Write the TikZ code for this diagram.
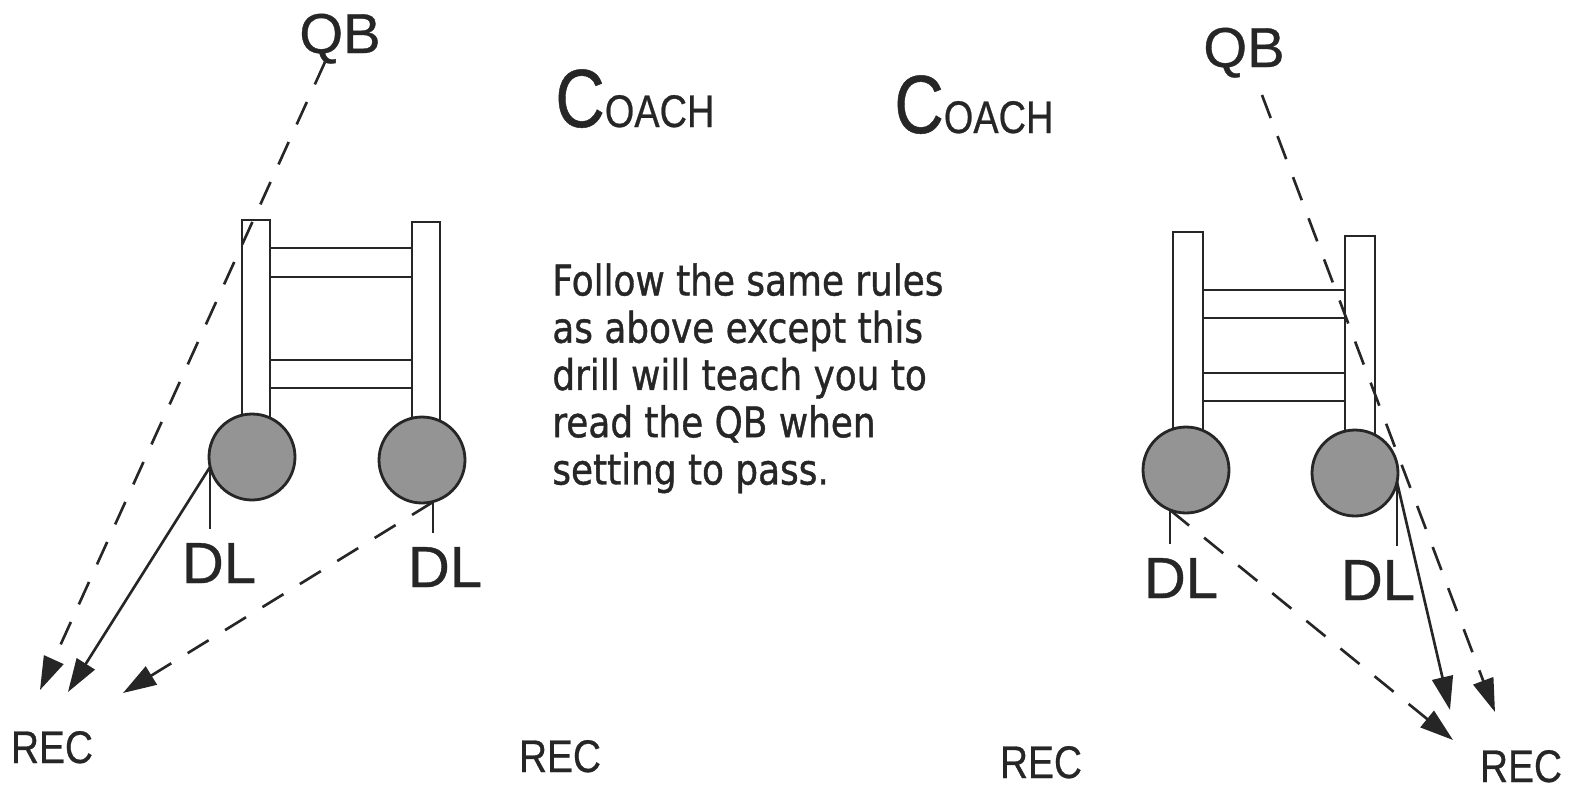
\documentclass[tikz,border=0pt]{standalone}
\usepackage{fontspec}
\usepackage{graphicx}
\setmainfont{Liberation Sans}[FakeBold=0.6]
\newfontfamily\genfont{DejaVu Sans}[FakeBold=1.0]
\usetikzlibrary{arrows.meta,calc}
\begin{document}
\begin{tikzpicture}[x=0.02cm,y=-0.02cm,
  ink/.style={draw=black!85,line width=1.6pt},
  railbox/.style={ink,fill=white},
  player/.style={circle,ink,fill=black!42,minimum size=1.72cm,inner sep=0pt},
  lbl/.style={inner sep=0pt,text=black!85},
  qbtxt/.style={lbl,font=\fontsize{32}{36}\selectfont},
  dltxt/.style={lbl,font=\fontsize{33}{38}\selectfont},
  rectxt/.style={lbl,font=\fontsize{26}{30}\selectfont},
  tick/.style={draw=black!85,line width=1.5pt},
  runarrow/.style={draw=black!85,line width=1.5pt,-{Triangle[length=19pt,width=12pt]}},
  readarrow/.style={runarrow,dash pattern=on 14pt off 11pt},
]
\fill[white] (0,0) rectangle (1569,789);
\useasboundingbox (0,0) rectangle (1569,789);

% ---------- left ladder ----------
\draw[railbox] (242,220) rectangle (270,457);
\draw[railbox] (412,222) rectangle (440,460);
\draw[ink] (270,248) rectangle (412,277);
\draw[ink] (270,360) rectangle (412,388);
\node[player] (p1) at (252,457) {};
\node[player] (p2) at (422,460) {};

% ---------- right ladder ----------
\draw[railbox] (1173,232) rectangle (1203,470);
\draw[railbox] (1345,236) rectangle (1375,473);
\draw[ink] (1203,290) rectangle (1345,318);
\draw[ink] (1203,373) rectangle (1345,401);
\node[player] (p3) at (1186,470) {};
\node[player] (p4) at (1355,473) {};

% ---------- labels ----------
\node[qbtxt,anchor=base] (qb1) at (340,53) {QB};
\node[qbtxt,anchor=base] (qb2) at (1244,67) {QB};
\node[dltxt,anchor=base] (dl1) at (219,583) {DL};
\node[dltxt,anchor=base] (dl2) at (445,587) {DL};
\node[dltxt,anchor=base] (dl3) at (1181,598) {DL};
\node[dltxt,anchor=base] (dl4) at (1378,600) {DL};
\node[rectxt,anchor=base] (rec1) at (52,763) {\scalebox{0.85}[1]{REC}};
\node[rectxt,anchor=base] (rec2) at (560,772) {\scalebox{0.85}[1]{REC}};
\node[rectxt,anchor=base] (rec3) at (1041,778) {\scalebox{0.85}[1]{REC}};
\node[rectxt,anchor=base] (rec4) at (1521,782) {\scalebox{0.85}[1]{REC}};
\node[lbl,anchor=base west] (coach1) at (555,127)
  {\scalebox{0.83}[1]{\fontsize{47}{50}\selectfont C\fontsize{26}{30}\selectfont OACH}};
\node[lbl,anchor=base west] (coach2) at (894,133)
  {\scalebox{0.83}[1]{\fontsize{47}{50}\selectfont C\fontsize{26}{30}\selectfont OACH}};
\node[lbl,anchor=north west] (note) at (552,262)
  {\scalebox{0.85}[1]{\genfont\fontsize{24}{26.9}\selectfont\begin{tabular}{@{}l@{}}Follow the same rules\\ as above except this\\ drill will teach you to\\ read the QB when\\ setting to pass.\end{tabular}}};

% ---------- tick points on the players ----------
\coordinate (t1) at (210,467);
\coordinate (t2) at (433,502);
\coordinate (t3) at (1170,510);
\coordinate (t4) at (1397,482);
\draw[tick] (t1) -- ($(t1 |- dl1.north)+(0,-14)$);
\draw[tick] (t2) -- ($(t2 |- dl2.north)+(0,-14)$);
\draw[tick] (t3) -- ($(t3 |- dl3.north)+(0,-14)$);
\draw[tick] (t4) -- ($(t4 |- dl4.north)+(0,-14)$);

% ---------- arrow ends ----------
\coordinate (q1) at (325,62);
\coordinate (q2) at (1262,95);
\coordinate (e1) at (40,690);
\coordinate (e2) at (68,692);
\coordinate (e3) at (123,693);
\coordinate (e4) at (1495,712);
\coordinate (e5) at (1450,710);
\coordinate (e6) at (1453,740);

% ---------- left drill arrows ----------
\draw[readarrow] (q1) -- (e1);
\draw[runarrow] (t1) -- (e2);
\draw[readarrow] (t2) -- (e3);

% ---------- right drill arrows ----------
\draw[readarrow] (q2) -- (e4);
\draw[runarrow] (t4) -- (e5);
\draw[readarrow] (t3) -- (e6);
\end{tikzpicture}
\end{document}
